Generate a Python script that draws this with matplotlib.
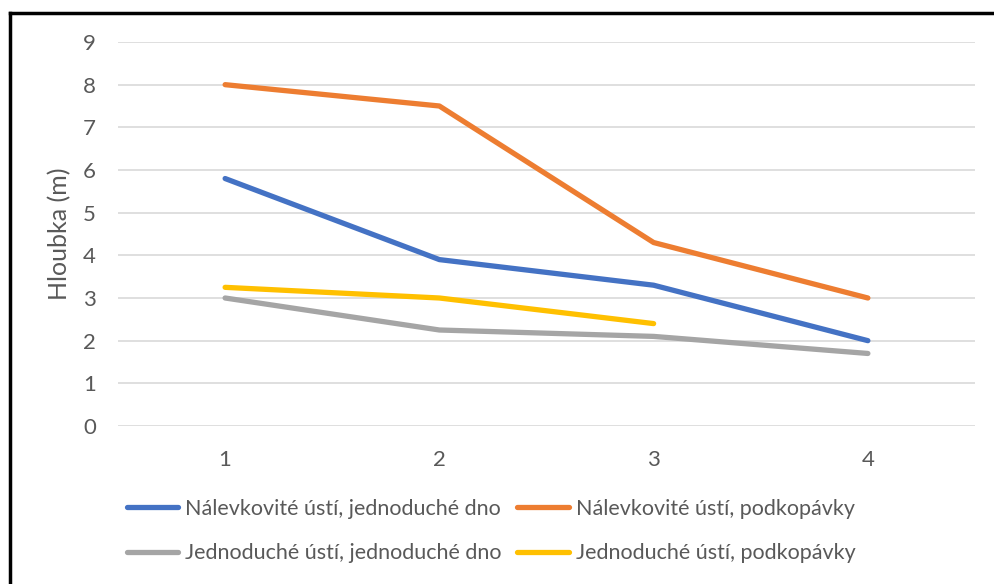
import matplotlib
matplotlib.use("Agg")
import matplotlib.pyplot as plt
from matplotlib.lines import Line2D

plt.rcParams['font.family'] = ['Lato', 'DejaVu Sans']

categories = [1, 2, 3, 4]
nalevk_jedn = [5.8, 3.9, 3.3, 2.0]
nalevk_podk = [8.0, 7.5, 4.3, 3.0]
jedn_jedn = [3.0, 2.25, 2.1, 1.7]
jedn_podk = [3.25, 3.0, 2.4]
labels = ["Nálevkovité ústí, jednoduché dno",
          "Nálevkovité ústí, podkopávky",
          "Jednoduché ústí, jednoduché dno",
          "Jednoduché ústí, podkopávky"]
y_ticks = list(range(0, 10))

W, H = 995, 584
fig = plt.figure(figsize=(W / 100, H / 100), dpi=100)
ax = fig.add_axes([118 / W, 1 - 426 / H, (975 - 118) / W, (426 - 42) / H])

series = [
    (nalevk_jedn, "#4472C4"),
    (nalevk_podk, "#ED7D31"),
    (jedn_jedn, "#A5A5A5"),
    (jedn_podk, "#FFC000"),
]
handles = []
for (vals, col), lab in zip(series, labels):
    h, = ax.plot(categories[:len(vals)], vals, color=col, lw=3.8,
                 solid_capstyle='round', solid_joinstyle='round', label=lab, zorder=3)
    handles.append(h)

ax.set_xlim(0.5, 4.5)
ax.set_ylim(0, 9)
ax.set_yticks(y_ticks)
ax.set_xticks(categories)
ax.grid(axis='y', color='#D9D9D9', lw=1.2)
ax.set_axisbelow(True)
for s in ax.spines.values():
    s.set_visible(False)
ax.tick_params(axis='both', length=0, labelsize=16, labelcolor='#595959')
ax.tick_params(axis='y', pad=16)
ax.tick_params(axis='x', pad=17)
ax.set_ylabel("Hloubka (m)", fontsize=18, color='#595959', labelpad=8)

# legend laid out row by row under the plot area
order = [0, 2, 1, 3]
leg = fig.legend([handles[i] for i in order], [labels[i] for i in order],
                 ncol=2, loc='center', bbox_to_anchor=(491 / W, 1 - 531 / H),
                 frameon=False, fontsize=15.5, handlelength=2.4, handletextpad=0.3,
                 columnspacing=0.75, labelspacing=1.15)
for t in leg.get_texts():
    t.set_color('#595959')

# frame edges along the top and the left side
fig.add_artist(Line2D([10 / W, 1.0], [1 - 13 / H, 1 - 13 / H], color='black', lw=2.5,
                      transform=fig.transFigure))
fig.add_artist(Line2D([10 / W, 10 / W], [0.0, 1 - 13 / H], color='black', lw=2.5,
                      transform=fig.transFigure))

fig.savefig("out.png", dpi=100)
